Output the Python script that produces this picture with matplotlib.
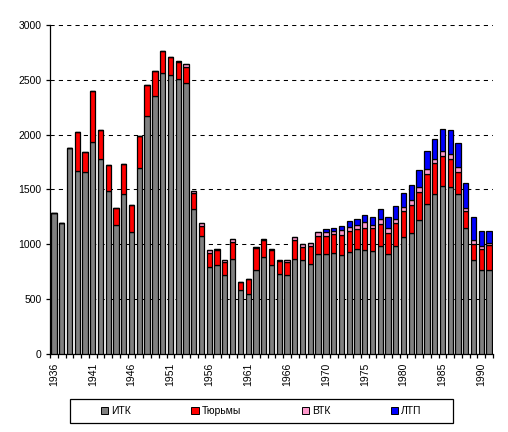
import numpy as np
import matplotlib
matplotlib.use("Agg")
import matplotlib.pyplot as plt
from matplotlib.patches import Rectangle, Patch

plt.rcParams['font.family'] = ['Liberation Sans', 'DejaVu Sans']

# categories (one year appears twice in the source table)
years = ['1936', '1937', '1938', '1939', '1940', '1941', '1942', '1943', '1944', '1945',
         '1946', '1947', '1948', '1949', '1950', '1951', '1952', '1953', '1954', '1955',
         '1956', '1957', '1958', '1959', '1960', '1961', '1962', '1963', '1964', '1965',
         '1966', '1967', '1968', '1969', '1969', '1970', '1971', '1972', '1973', '1974',
         '1975', '1976', '1977', '1978', '1979', '1980', '1981', '1982', '1983', '1984',
         '1985', '1986', '1987', '1988', '1989', '1990', '1991']

itk = [1290, 1190, 1880, 1670, 1660, 1930, 1780, 1490, 1180, 1460,
       1110, 1700, 2170, 2350, 2565, 2545, 2510, 2470, 1320, 1075,
       790, 810, 720, 870, 585, 545, 770, 880, 810, 725,
       720, 870, 855, 820, 910, 910, 920, 905, 930, 960,
       950, 935, 985, 915, 985, 1070, 1105, 1225, 1370, 1460,
       1535, 1525, 1460, 1145, 860, 770, 770]
prisons = [0, 0, 0, 350, 180, 465, 260, 235, 150, 270,
           245, 290, 280, 235, 195, 160, 150, 150, 150, 95,
           130, 135, 115, 155, 70, 135, 195, 160, 135, 120,
           115, 165, 125, 165, 170, 170, 175, 180, 190, 180,
           200, 210, 200, 190, 210, 235, 250, 250, 270, 285,
           275, 255, 200, 155, 145, 190, 220]
vtk = [0, 0, 0, 0, 0, 0, 0, 0, 0, 0,
       0, 0, 0, 0, 0, 0, 15, 25, 12, 20,
       25, 15, 25, 20, 0, 0, 15, 10, 15, 15,
       25, 30, 25, 25, 35, 35, 25, 45, 35, 40,
       50, 30, 50, 40, 40, 35, 45, 45, 45, 35,
       40, 40, 45, 30, 35, 25, 25]
ltp = [0, 0, 0, 0, 0, 0, 0, 0, 0, 0,
       0, 0, 0, 0, 0, 0, 0, 0, 0, 0,
       0, 0, 0, 0, 0, 0, 0, 0, 0, 0,
       0, 0, 0, 0, 0, 25, 25, 35, 55, 55,
       65, 75, 90, 100, 110, 125, 140, 155, 165, 185,
       205, 220, 215, 230, 205, 140, 105]

series = [(itk, '#808080', 'ИТК'),
          (prisons, '#FF0000', 'Тюрьмы'),
          (vtk, '#FF99CC', 'ВТК'),
          (ltp, '#0000FF', 'ЛТП')]

fig = plt.figure(figsize=(5.08, 4.32), dpi=100)
ax = fig.add_axes([0.0984, 0.1806, 0.872, 0.7615])

x = np.arange(len(years))
bottom = np.zeros(len(years))
for vals, color, label in series:
    vals = np.array(vals, dtype=float)
    ax.bar(x, vals, width=0.68, bottom=bottom, color=color,
           edgecolor='black', linewidth=0.9, zorder=3)
    bottom += vals

ax.set_xlim(-0.5, len(years) - 0.5)
ax.set_ylim(0, 3000)
ax.set_yticks(np.arange(0, 3001, 500))
ax.yaxis.grid(True, linestyle=(0, (4, 4)), color='black', linewidth=0.75)
ax.set_axisbelow(True)

for s in ['top', 'right']:
    ax.spines[s].set_visible(False)
for s in ['left', 'bottom']:
    ax.spines[s].set_linewidth(0.9)

ax.set_xticks(x[::5])
ax.set_xticklabels(years[::5], rotation=90)
ax.set_xticks(np.arange(-0.5, len(years), 1), minor=True)
ax.tick_params(axis='x', which='major', length=0, pad=6.5, labelsize=7.5)
ax.tick_params(axis='x', which='minor', length=3, width=0.9, direction='out')
ax.tick_params(axis='y', length=3, width=0.9, direction='out', pad=3, labelsize=7.5)

# legend box like Excel
fig.patches.append(Rectangle((0.138, 0.0215), 0.753, 0.055, transform=fig.transFigure,
                             fill=False, edgecolor='black', linewidth=0.9))
handles = [Patch(facecolor=c, edgecolor='black', linewidth=0.7, label=l) for _, c, l in series]
fig.legend(handles=handles, loc='center', bbox_to_anchor=(0.5145, 0.049), ncol=4,
           frameon=False, fontsize=7.5, handlelength=0.7, handleheight=0.7,
           handletextpad=0.3, columnspacing=5.8)

fig.savefig('out.png', dpi=100)
